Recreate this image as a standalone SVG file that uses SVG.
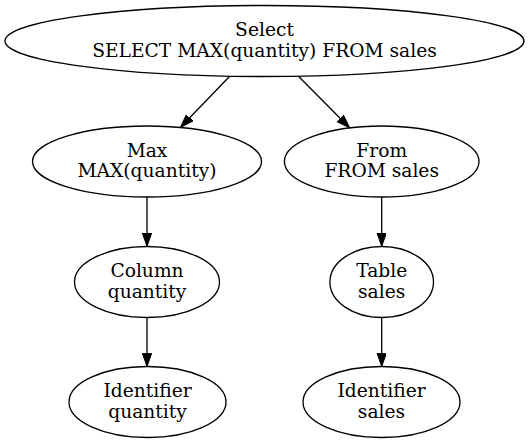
<svg xmlns="http://www.w3.org/2000/svg" width="529" height="441" viewBox="0 0 529 441">
<defs>
<marker id="arr" markerUnits="userSpaceOnUse" markerWidth="16" markerHeight="12" refX="13.3" refY="4.67" orient="auto">
<path d="M0,0 L13.3,4.67 L0,9.33 z" fill="#000" stroke="#000" stroke-width="1"/>
</marker>
<style>
ellipse{fill:none;stroke:#000;stroke-width:1.33}
text{font-family:"DejaVu Serif",serif;font-size:18.67px;fill:#000;text-anchor:middle}
.e{stroke:#000;stroke-width:1.33;fill:none;marker-end:url(#arr)}
</style>
</defs>
<rect width="529" height="441" fill="#fff"/>
<g id="edges">
<line class="e" x1="229.5" y1="76.5" x2="180.5" y2="127.3"/>
<line class="e" x1="298.7" y1="76.5" x2="349.5" y2="127.7"/>
<line class="e" x1="147" y1="197" x2="147" y2="246.3"/>
<line class="e" x1="381.7" y1="197" x2="381.7" y2="246.3"/>
<line class="e" x1="147" y1="317.5" x2="147" y2="366.5"/>
<line class="e" x1="381.7" y1="317.5" x2="381.7" y2="366.5"/>
</g>
<g id="select">
<ellipse cx="264.5" cy="41" rx="259.5" ry="35.5"/>
<text x="264.5" y="36">Select</text>
<text x="264.5" y="56.6">SELECT MAX(quantity) FROM sales</text>
</g>
<g id="max">
<ellipse cx="147" cy="161.5" rx="114.5" ry="35.5"/>
<text x="147" y="156.6">Max</text>
<text x="147" y="177.2">MAX(quantity)</text>
</g>
<g id="from">
<ellipse cx="381.7" cy="161.5" rx="97.3" ry="35.5"/>
<text x="381.7" y="156.6">From</text>
<text x="381.7" y="177.2">FROM sales</text>
</g>
<g id="column">
<ellipse cx="147" cy="282" rx="72.5" ry="35.5"/>
<text x="147" y="277.1">Column</text>
<text x="147" y="297.7">quantity</text>
</g>
<g id="table">
<ellipse cx="381.7" cy="282" rx="51.8" ry="35.5"/>
<text x="381.7" y="277.1">Table</text>
<text x="381.7" y="297.7">sales</text>
</g>
<g id="ident_quantity">
<ellipse cx="147.5" cy="402" rx="78.5" ry="35.5"/>
<text x="147.5" y="397.1">Identifier</text>
<text x="147.5" y="417.7">quantity</text>
</g>
<g id="ident_sales">
<ellipse cx="381.5" cy="402" rx="78.5" ry="35.5"/>
<text x="381.5" y="397.1">Identifier</text>
<text x="381.5" y="417.7">sales</text>
</g>
</svg>
